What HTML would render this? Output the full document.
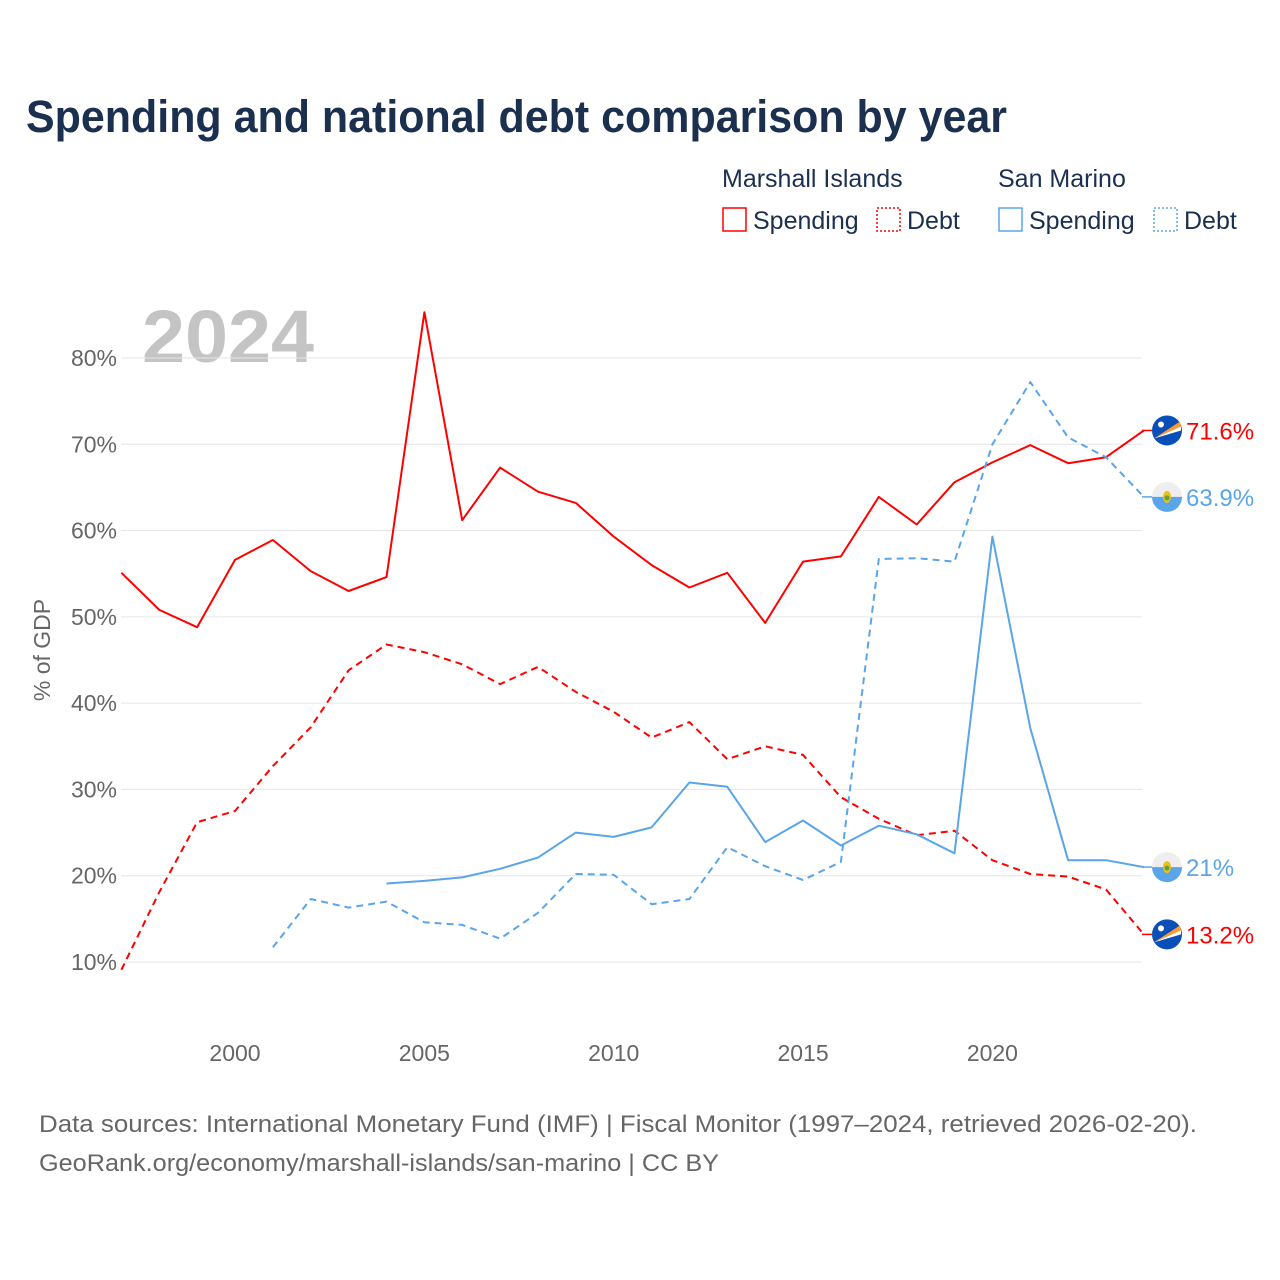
<!DOCTYPE html>
<html><head><meta charset="utf-8">
<style>
body{margin:0;background:#fff;font-family:"Liberation Sans",sans-serif;}
#wrap{position:relative;width:1280px;height:1280px;overflow:hidden;}
</style></head>
<body>
<div id="wrap">
<svg id="chart" width="1280" height="1280"></svg>
</div>
<script>
const years=[];for(let y=1997;y<=2024;y++)years.push(y);
const mhSpending=[55.1,50.8,48.8,56.6,58.9,55.3,53.0,54.6,85.3,61.2,67.3,64.5,63.2,59.3,56.0,53.4,55.1,49.3,56.4,57.0,63.9,60.7,65.6,67.9,69.9,67.8,68.5,71.6];
const mhDebt=[9.1,18.1,26.2,27.5,32.7,37.2,43.8,46.8,45.9,44.5,42.2,44.2,41.3,39.0,36.0,37.8,33.5,35.0,34.0,29.1,26.6,24.7,25.2,21.8,20.2,19.9,18.4,13.2];
const smSpendingYears=[2004,2005,2006,2007,2008,2009,2010,2011,2012,2013,2014,2015,2016,2017,2018,2019,2020,2021,2022,2023,2024];
const smSpending=[19.1,19.4,19.8,20.8,22.1,25.0,24.5,25.6,30.8,30.3,23.9,26.4,23.5,25.8,24.8,22.6,59.3,37.1,21.8,21.8,21.0];
const smDebtYears=[2001,2002,2003,2004,2005,2006,2007,2008,2009,2010,2011,2012,2013,2014,2015,2016,2017,2018,2019,2020,2021,2022,2023,2024];
const smDebt=[11.7,17.3,16.3,17.0,14.6,14.3,12.7,15.7,20.2,20.1,16.7,17.3,23.3,21.1,19.5,21.6,56.7,56.8,56.4,70.0,77.2,70.8,68.5,63.9];
const yTicks=[10,20,30,40,50,60,70,80];
const xTicks=[2000,2005,2010,2015,2020];
const endLabels=["71.6%","63.9%","21%","13.2%"];

const X=y=>235+(y-2000)*37.87;
const Y=v=>962-(v-10)*8.629;
const svg=document.getElementById('chart');
const NS='http://www.w3.org/2000/svg';
function mk(tag,attrs,parent){const e=document.createElementNS(NS,tag);for(const k in attrs)e.setAttribute(k,attrs[k]);(parent||svg).appendChild(e);return e;}
function txt(s,attrs){const t=mk('text',attrs);t.textContent=s;return t;}

let t;
t=txt('Spending and national debt comparison by year',{x:26,y:132,'font-size':45,'font-weight':'bold',fill:'#1b2f4e',textLength:981,lengthAdjust:'spacingAndGlyphs'});


t=txt('2024',{x:142,y:362,'font-size':74,'font-weight':'bold',fill:'#c4c4c4',textLength:172,lengthAdjust:'spacingAndGlyphs'});



const lg=[['Marshall Islands',722,178],['San Marino',998,178]];
lg.forEach(l=>{const e=txt(l[0],{x:l[1],y:l[2]+9,'font-size':25,fill:'#1b2f4e'});

});
const le=[[722,'Spending','#ff0000',null],[876,'Debt','#ff0000','2,2'],[998,'Spending','#5aa5ea',null],[1153,'Debt','#5aa5ea','2,2']];
le.forEach(l=>{const g=mk('g',{});


const r=mk('rect',{x:l[0]+1,y:208,width:23,height:23,fill:'none',stroke:l[2],'stroke-width':1.5},g);if(l[3])r.setAttribute('stroke-dasharray',l[3]);
const tt=mk('text',{x:l[0]+31,y:229,'font-size':25,fill:'#1b2f4e'},g);tt.textContent=l[1];});

yTicks.forEach(v=>{const l=mk('line',{x1:121,x2:1142,y1:Y(v),y2:Y(v),stroke:'#e6e6e6','stroke-width':1});


const e=txt(v+'%',{x:117,y:Y(v)+8,'font-size':23,fill:'#666','text-anchor':'end'});

});
xTicks.forEach(v=>{const e=txt(String(v),{x:X(v),y:1061,'font-size':23,fill:'#666','text-anchor':'middle'});

});
t=txt('% of GDP',{x:0,y:0,'font-size':23,fill:'#666','text-anchor':'middle',transform:'translate(50,650) rotate(-90)'});



function line(xs,vals,color,dash,name){const d=vals.map((v,i)=>(i?'L':'M')+X(xs[i]).toFixed(1)+','+Y(v).toFixed(1)).join('');
const p=mk('path',{d:d,fill:'none',stroke:color,'stroke-width':2,'stroke-linejoin':'round'});if(dash)p.setAttribute('stroke-dasharray',dash);

}
line(years,mhSpending,'#ff0000',null,'marshall-spending-line');
line(years,mhDebt,'#ff0000','7,5','marshall-debt-line');
line(smSpendingYears,smSpending,'#5aa5ea',null,'san-marino-spending-line');
line(smDebtYears,smDebt,'#5aa5ea','7,5','san-marino-debt-line');

function mhFlag(cx,cy){const g=mk('g',{});


mk('circle',{cx:cx,cy:cy,r:15,fill:'#0a4fb8'},g);
mk('path',{d:`M${cx-13},${cy+8}L${cx+13},${cy-9}L${cx+14},${cy-4}Z`,fill:'#ff9b2e'},g);
mk('path',{d:`M${cx-13},${cy+8}L${cx+14},${cy-4}L${cx+14},${cy}Z`,fill:'#fff'},g);
mk('circle',{cx:cx-6,cy:cy-6,r:3,fill:'#fff'},g);}
function smFlag(cx,cy){const g=mk('g',{});


mk('circle',{cx:cx,cy:cy,r:15,fill:'#eeeeee'},g);
mk('path',{d:`M${cx-15},${cy}A15,15 0 0 0 ${cx+15},${cy}Z`,fill:'#5aa5ea'},g);
mk('ellipse',{cx:cx,cy:cy,rx:4,ry:6,fill:'#e8c21c'},g);
mk('circle',{cx:cx,cy:cy+1,r:2.5,fill:'#6a9e3a'},g);}
const lastVals=[mhSpending[mhSpending.length-1],smDebt[smDebt.length-1],smSpending[smSpending.length-1],mhDebt[mhDebt.length-1]];
const labColors=['#ff0000','#5aa5ea','#5aa5ea','#ff0000'];
lastVals.forEach((v,i)=>{const cy=Y(v);const cx=1167;
const c=labColors[i];
mk('line',{x1:1142,x2:1152,y1:cy,y2:cy,stroke:c,'stroke-width':1.5});
if(c==='#ff0000')mhFlag(cx,cy);else smFlag(cx,cy);
const e=txt(endLabels[i],{x:1186,y:cy+9,'font-size':24,fill:c});

});

t=txt('Data sources: International Monetary Fund (IMF) | Fiscal Monitor (1997–2024, retrieved 2026-02-20).',{x:39,y:1132,'font-size':24,fill:'#666',textLength:1158,lengthAdjust:'spacingAndGlyphs'});


t=txt('GeoRank.org/economy/marshall-islands/san-marino | CC BY',{x:39,y:1171,'font-size':24,fill:'#666',textLength:680,lengthAdjust:'spacingAndGlyphs'});


</script>
</body></html>
